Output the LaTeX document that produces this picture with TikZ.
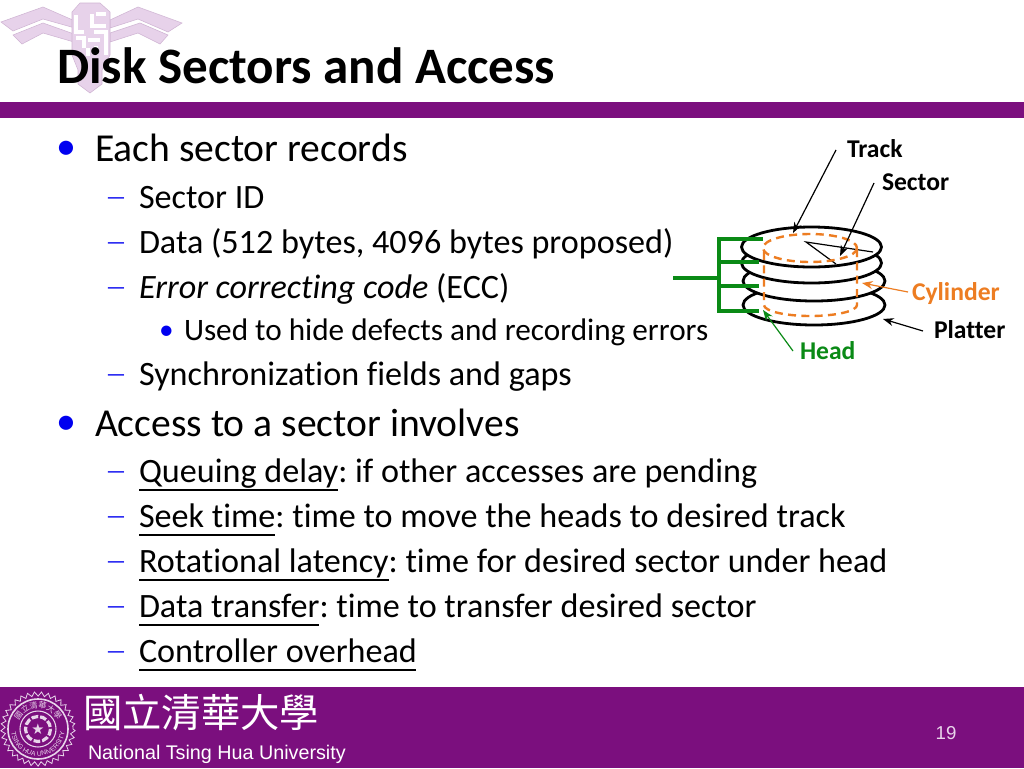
\documentclass[tikz,border=0pt]{standalone}
\usepackage{fontspec}
\usetikzlibrary{arrows.meta,decorations.pathmorphing,decorations.text}
\setmainfont[Ligatures=CommonOff]{Carlito}
\newfontfamily\footfont{Liberation Sans}
\newfontfamily\cjkfont{Noto Sans CJK TC}
\newfontfamily\symfont{DejaVu Sans}
\newcommand{\colgap}{:\kern-1.9pt}
\definecolor{nthu}{HTML}{7B0F7E}
\definecolor{wing}{HTML}{E7D2EA}
\definecolor{wingedge}{HTML}{CFB4D3}
\definecolor{bul}{HTML}{0000F0}
\definecolor{cyl}{HTML}{ED7D22}
\definecolor{headg}{HTML}{0A8A16}
\definecolor{seal}{HTML}{E8D5EA}
\tikzset{
 x=0.75pt,y=-0.75pt,
 every node/.style={inner sep=0,outer sep=0},
 lone/.style={anchor=base west,font=\fontsize{29.7}{30}\selectfont},
 ltwo/.style={anchor=base west,font=\fontsize{25.6}{26}\selectfont},
 lthree/.style={anchor=base west,font=\fontsize{23.4}{24}\selectfont},
 bulletmark/.style={anchor=base west,text=bul},
 dashmark/.style={anchor=base west,text=bul,font=\fontsize{16.5}{16}\selectfont},
 ul/.style={draw=black,line width=0.9pt},
 tag/.style={anchor=base west,font=\bfseries\fontsize{19.2}{19}\selectfont},
 plate/.style={draw=black,line width=2.1pt,fill=white},
 leader/.style={draw=black,line width=0.9pt,-{Stealth[length=8pt,width=6pt]}},
 cyldash/.style={draw=cyl,line width=1.8pt,dash pattern=on 6pt off 4pt},
 actuator/.style={draw=headg,line width=2.4pt},
 wingshape/.style={fill=wing,draw=wingedge,line width=0.4pt},
}
\begin{document}
\begin{tikzpicture}
\useasboundingbox (0,0) rectangle (1024,768);
\fill[white] (0,0) rectangle (1024,768);
% logo
\path[wingshape] (1,22) -- (43,7) -- (75,21) -- (75,28) -- (43,19) -- (13,31) -- cycle;
\path[wingshape] (13,35) -- (43,23) -- (74,34) -- (74,42) -- (43,33) -- (22,44) -- cycle;
\path[wingshape] (110,20) -- (138,7) -- (182,23) -- (168,32) -- (138,19) -- (110,28) -- cycle;
\path[wingshape] (110,33) -- (140,23) -- (168,35) -- (160,44) -- (138,33) -- (110,42) -- cycle;
\path[wingshape] (72,12) -- (80,3) -- (100,3) -- (110,12) -- (110,55) -- (102,70) -- (102,84) -- (90,93) -- (78,84) -- (78,70) -- (72,55) -- cycle;
\draw[white,line width=2.6pt] (76,15) -- (76,32) -- (84,32) (76,38) -- (84,38) -- (84,48) (92,14) -- (92,26) -- (106,26) (96,14) -- (106,14) (94,32) -- (106,32) -- (106,55) (88,40) -- (100,40) (88,48) -- (88,56) (96,46) -- (96,55);
% bands
\fill[nthu] (0,102) rectangle (1024,118);
\fill[nthu] (0,687) rectangle (1024,768);
% title
\node[anchor=base west,font=\bfseries\fontsize{38.3}{38}\selectfont] (title) at (57,83) {Disk Sectors and Access};
% body
\node[bulletmark,font=\fontsize{30}{30}\selectfont] (b1) at (56,159) {•};
\node[lone] (t1) at (95,161) {Each sector records};
\node[dashmark] (d1) at (106,204) {—};
\node[ltwo] (t2) at (139,208) {Sector ID};
\node[dashmark] (d2) at (106,249) {—};
\node[ltwo] (t3) at (139,253) {Data (512 bytes, 4096 bytes proposed)};
\node[dashmark] (d3) at (106,294) {—};
\node[ltwo] (t4) at (139,298) {\itshape Error correcting code \upshape(ECC)};
\node[bulletmark,font=\fontsize{22}{22}\selectfont] (b2) at (159,339) {•};
\node[lthree] (t5) at (184,340) {Used to hide defects and recording errors};
\node[dashmark] (d4) at (106,381) {—};
\node[ltwo] (t6) at (139,385) {Synchronization fields and gaps};
\node[bulletmark,font=\fontsize{30}{30}\selectfont] (b3) at (56,434) {•};
\node[lone] (t7) at (95,436) {Access to a sector involves};
\node[dashmark] (d5) at (106,478) {—};
\node[ltwo] (t8) at (139,482) {Queuing delay\colgap{} if other accesses are pending};
\node[dashmark] (d6) at (106,523) {—};
\node[ltwo] (t9) at (139,527) {Seek time\colgap{} time to move the heads to desired track};
\node[dashmark] (d7) at (106,568) {—};
\node[ltwo] (t10) at (139,572) {Rotational latency\colgap{} time for desired sector under head};
\node[dashmark] (d8) at (106,613) {—};
\node[ltwo] (t11) at (139,617) {Data transfer\colgap{} time to transfer desired sector};
\node[dashmark] (d9) at (106,658) {—};
\node[ltwo] (t12) at (139,662) {Controller overhead};
\draw[ul] (139,490) -- (338,490);
\draw[ul] (139,535) -- (275,535);
\draw[ul] (139,580) -- (389,580);
\draw[ul] (139,625) -- (319,625);
\draw[ul] (139,670) -- (416,670);
% disk
\draw[plate] (814,305) ellipse [x radius=71,y radius=20];
\draw[plate] (814,281) ellipse [x radius=71,y radius=20];
\draw[plate] (811.5,263) ellipse [x radius=70,y radius=20];
\draw[plate] (811.5,247) ellipse [x radius=70,y radius=20];
\coordinate (apex) at (806,242);
\coordinate (secA) at (873,252);
\coordinate (secB) at (836,264);
\draw[black,line width=0.9pt] (secA) -- (apex) -- (secB);
% cylinder
\draw[cyldash] (810,248) ellipse [x radius=47,y radius=14];
\draw[cyldash] (764,252) -- (764,305) arc[start angle=180,end angle=360,x radius=46.5,y radius=-11] -- (857,248);
% arms
\draw[actuator] (763,239) -- (719,239) -- (719,311) -- (759,311);
\draw[actuator] (719,262) -- (759,262);
\draw[actuator] (719,286) -- (759,286);
\draw[actuator] (673,278) -- (719,278);
% labels
\node[tag] (track) at (847,157) {Track};
\node[tag] (sector) at (882,190) {Sector};
\node[tag,text=cyl] (cylinder) at (912,300) {Cylinder};
\node[tag] (platter) at (934,338) {Platter};
\node[tag,text=headg] (head) at (800,359) {Head};
\coordinate (trackA) at (836,150);
\coordinate (trackB) at (793,233);
\coordinate (sectorA) at (874,183);
\coordinate (sectorB) at (840,256);
\coordinate (cylA) at (908,292);
\coordinate (cylB) at (862,283);
\coordinate (platA) at (923,331);
\coordinate (platB) at (883,319);
\coordinate (headA) at (793,351);
\coordinate (headB) at (763,310);
\draw[leader] (trackA) -- (trackB);
\draw[leader] (sectorA) -- (sectorB);
\draw[leader,draw=cyl] (cylA) -- (cylB);
\draw[leader] (platA) -- (platB);
\draw[leader,draw=headg] (headA) -- (headB);
% seal
\draw[seal,line width=0.6pt,decoration={zigzag,segment length=5pt,amplitude=1.6pt},decorate] (38,729) circle [radius=35];
\draw[seal,line width=1.2pt] (38,729) circle [radius=30];
\draw[seal,line width=0.8pt] (38,729) circle [radius=18];
\draw[seal,line width=2.4pt,dash pattern=on 5pt off 1.5pt] (38,729) circle [radius=12.5];
\node[text=seal,font=\symfont\fontsize{11}{11}\selectfont] (star) at (38,729) {★};
\path[decorate,decoration={text along path,text align=center,text={|\footfont\fontsize{5}{5}\selectfont\color{seal}|TSING HUA UNIVERSITY}}] (11,729) arc[start angle=180,end angle=0,radius=27];
\path[decorate,decoration={text along path,text align=center,text={|\cjkfont\fontsize{6}{6}\selectfont\color{seal}|國立清華大學}}] (17,729) arc[start angle=180,end angle=360,radius=21];
% footer text
\node[anchor=base west,text=white,font=\cjkfont\fontsize{29.5}{30}\selectfont] (cn) at (83,727) {國立清華大學};
\node[anchor=base west,text=white,font=\footfont\fontsize{14.8}{15}\selectfont] (en) at (88,759) {National Tsing Hua University};
\node[text=seal,font=\footfont\fontsize{14}{14}\selectfont] (pg) at (946,733) {19};
\end{tikzpicture}
\end{document}
